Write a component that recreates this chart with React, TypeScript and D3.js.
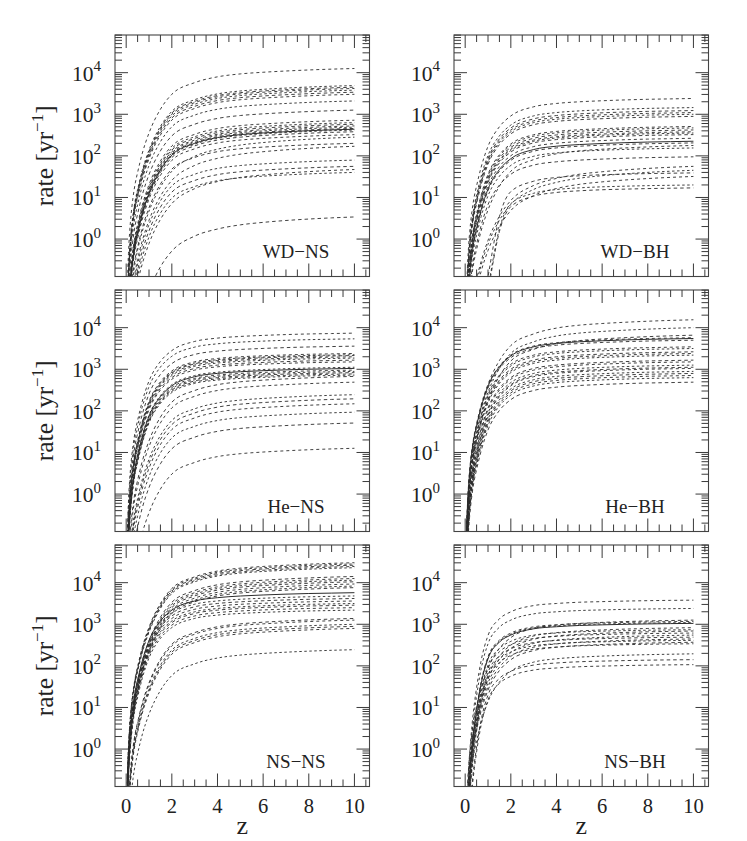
import React from 'react';
import * as d3 from 'd3';

// redshift grid at which every curve is sampled
const Z_GRID = [0.02, 0.05, 0.1, 0.15, 0.2, 0.3, 0.4, 0.5, 0.7, 1, 1.5, 2, 3, 4, 5, 6, 7, 8, 9, 10];

// curve shapes: log10( rate(z) / rate(z=10) )
const shapeA = [-6.5, -5.3, -4.45, -3.95, -3.6, -3.1, -2.75, -2.5, -2.05, -1.55, -0.98, -0.62, -0.34, -0.2, -0.13, -0.09, -0.06, -0.035, -0.015, 0];
const shapeB = [-6.1, -4.9, -4.05, -3.55, -3.2, -2.7, -2.35, -2.1, -1.65, -1.15, -0.68, -0.42, -0.2, -0.12, -0.08, -0.055, -0.035, -0.02, -0.01, 0];
const shapeC = [-6.8, -5.6, -4.75, -4.25, -3.9, -3.35, -3.0, -2.72, -2.28, -1.78, -1.2, -0.82, -0.46, -0.29, -0.19, -0.13, -0.085, -0.05, -0.022, 0];
const shapeD = [-7.0, -5.6, -4.6, -4.05, -3.65, -3.0, -2.5, -2.1, -1.45, -0.85, -0.45, -0.28, -0.13, -0.08, -0.05, -0.035, -0.022, -0.012, -0.005, 0];
const shapeE = [-9, -8.5, -8, -7.2, -6.5, -5.5, -4.9, -4.4, -3.5, -2.5, -1.05, -0.45, -0.2, -0.11, -0.07, -0.045, -0.03, -0.017, -0.008, 0];
const SHAPES: Record<string, number[]> = { A: shapeA, B: shapeB, C: shapeC, D: shapeD, E: shapeE };

// rate at z = 10 [yr^-1] for every curve, and the shape of each curve
const wdNsRate = [12600, 4900, 4470, 4170, 3800, 3390, 3020, 2090, 1260, 720, 630, 575, 525, 490, 457, 437, 417, 380, 324, 282, 200, 170, 79, 56, 47, 40, 3.4];
const wdNsShape = 'AAAAAAAAAAAAAAAAAAACACAACAC';
const wdBhRate = [2400, 1450, 1230, 1100, 1000, 890, 510, 470, 420, 380, 355, 325, 265, 225, 205, 178, 155, 95, 56, 45, 39, 32, 20, 17];
const wdBhShape = 'BBBBBBBBBBBBBBBABBCCECEE';
const heNsRate = [7400, 5400, 3600, 2400, 2240, 2140, 2000, 1860, 1660, 1510, 1120, 1050, 955, 890, 830, 775, 725, 675, 490, 245, 195, 148, 93, 51, 12.6];
const heNsShape = 'BBBBBBBBBBBBBBBBBAAAAAAAA';
const heBhRate = [15500, 10000, 6600, 5750, 5500, 5000, 3470, 3160, 2630, 2400, 2190, 1660, 1510, 1260, 1120, 1050, 890, 795, 710, 630, 490];
const heBhShape = 'AAABBBBBBBBBBBBBBBBBB';
const nsNsRate = [30200, 28200, 26300, 24500, 22900, 14100, 12600, 11500, 10500, 9300, 8300, 7600, 5750, 4800, 4170, 3630, 3160, 2880, 2510, 2190, 1380, 1260, 1000, 890, 795, 245];
const nsNsShape = 'AAAAAAAAAAAABBBBBBBBAAAAAA';
const nsBhRate = [3800, 2400, 1260, 1170, 1100, 1050, 830, 740, 690, 615, 550, 490, 445, 410, 370, 340, 195, 141, 107];
const nsBhShape = 'DDBDDDBDBDBDBDBDBDD';

const PANEL_LABELS = ['WD\u2212NS', 'WD\u2212BH', 'He\u2212NS', 'He\u2212BH', 'NS\u2212NS', 'NS\u2212BH'];
const SOLID_CURVE = [15, 13, 11, 4, 12, 5];
const X_TICK_LABELS = [0, 2, 4, 6, 8, 10];
const Y_TICK_EXPONENTS = [0, 1, 2, 3, 4];

const PANELS = [
  { rate: wdNsRate, shape: wdNsShape },
  { rate: wdBhRate, shape: wdBhShape },
  { rate: heNsRate, shape: heNsShape },
  { rate: heBhRate, shape: heBhShape },
  { rate: nsNsRate, shape: nsNsShape },
  { rate: nsBhRate, shape: nsBhShape },
];

const W = 747;
const H = 841;
const COL_LEFT = [115, 454];
const PANEL_W = 254.5;
const ROW_TOP = [35, 290, 545];
const PANEL_H = 241.5;
const X_DOMAIN: [number, number] = [-0.49, 10.66];
const Y_DOMAIN: [number, number] = [Math.pow(10, -0.9), Math.pow(10, 4.906)];
const FONT = "'Liberation Serif', 'DejaVu Serif', 'Times New Roman', serif";
const DASHES = ['3,3', '2.5,2.5', '3.5,3'];

function Panel({ idx }: { idx: number }) {
  const row = Math.floor(idx / 2);
  const col = idx % 2;
  const left = COL_LEFT[col];
  const top = ROW_TOP[row];
  const bottom = top + PANEL_H;
  const right = left + PANEL_W;
  const x = d3.scaleLinear().domain(X_DOMAIN).range([left, right]);
  const y = d3.scaleLog().domain(Y_DOMAIN).range([bottom, top]);
  const line = d3
    .line<[number, number]>()
    .x((d) => x(d[0]))
    .y((d) => y(d[1]))
    .curve(d3.curveMonotoneX);
  const panel = PANELS[idx];
  const clipId = `clip-${idx}`;

  const xTicks = d3.range(0, 10.51, 0.5).filter((v) => v > X_DOMAIN[0] && v < X_DOMAIN[1]);
  const yTicks: { v: number; major: boolean }[] = [];
  for (let n = -1; n <= 4; n++) {
    for (let k = 1; k <= 9; k++) {
      const v = k * Math.pow(10, n);
      if (v > Y_DOMAIN[0] && v < Y_DOMAIN[1]) yTicks.push({ v, major: k === 1 });
    }
  }
  const tickColor = '#3a3a3a';

  return (
    <g>
      <defs>
        <clipPath id={clipId}>
          <rect x={left} y={top} width={PANEL_W} height={PANEL_H} />
        </clipPath>
      </defs>
      <g clipPath={`url(#${clipId})`}>
        {panel.rate.map((r, i) => {
          const shp = SHAPES[panel.shape[i]];
          const pts: [number, number][] = Z_GRID.map((z, j) => [z, r * Math.pow(10, shp[j])]);
          const solid = SOLID_CURVE[idx] === i;
          return (
            <path
              key={i}
              d={line(pts) || ''}
              fill="none"
              stroke="#2b2b2b"
              strokeWidth={solid ? 1 : 0.9}
              strokeDasharray={solid ? undefined : DASHES[i % 3]}
            />
          );
        })}
      </g>
      <rect x={left} y={top} width={PANEL_W} height={PANEL_H} fill="none" stroke="#444" strokeWidth={1.1} />
      {xTicks.map((v) => {
        const major = Math.abs(v % 2) < 1e-9;
        const len = major ? 13 : 7;
        const px = x(v);
        return (
          <g key={`x${v}`} stroke={tickColor} strokeWidth={1}>
            <line x1={px} x2={px} y1={bottom} y2={bottom - len} />
            <line x1={px} x2={px} y1={top} y2={top + len} />
          </g>
        );
      })}
      {yTicks.map((t) => {
        const len = t.major ? 13 : 7;
        const py = y(t.v);
        return (
          <g key={`y${t.v}`} stroke={tickColor} strokeWidth={1}>
            <line x1={left} x2={left + len} y1={py} y2={py} />
            <line x1={right} x2={right - len} y1={py} y2={py} />
          </g>
        );
      })}
      {Y_TICK_EXPONENTS.map((n) => (
        <text key={`yl${n}`} x={left - 43} y={y(Math.pow(10, n)) + 8} fontFamily={FONT} fontSize={21.5} fill="#222">
          <tspan>10</tspan>
          <tspan dy={-9.5} fontSize={15}>{n}</tspan>
        </text>
      ))}
      {row === 2 &&
        X_TICK_LABELS.map((v) => (
          <text key={`xl${v}`} x={x(v)} y={bottom + 26.5} textAnchor="middle" fontFamily={FONT} fontSize={20.5} fill="#222">
            {v}
          </text>
        ))}
      {row === 2 && (
        <text x={(left + right) / 2} y={834} textAnchor="middle" fontFamily={FONT} fontSize={26} fill="#222">
          z
        </text>
      )}
      {col === 0 && (
        <text
          transform={`translate(53, ${(top + bottom) / 2}) rotate(-90)`}
          textAnchor="middle"
          fontFamily={FONT}
          fontSize={25.5}
          fill="#222"
        >
          rate [yr
          <tspan dy={-10} fontSize={17}>
            {'\u22121'}
          </tspan>
          <tspan dy={10}>]</tspan>
        </text>
      )}
      <text x={left + 181} y={bottom - 18.5} textAnchor="middle" fontFamily={FONT} fontSize={19} fill="#222">
        {PANEL_LABELS[idx]}
      </text>
    </g>
  );
}

export default function App() {
  return (
    <svg
      width={W}
      height={H}
      viewBox={`0 0 ${W} ${H}`}
      style={{ position: 'absolute', left: 0, top: 0, background: '#fff' }}
    >
      <rect x={0} y={0} width={W} height={H} fill="#fff" />
      {PANELS.map((_, i) => (
        <Panel key={i} idx={i} />
      ))}
    </svg>
  );
}
